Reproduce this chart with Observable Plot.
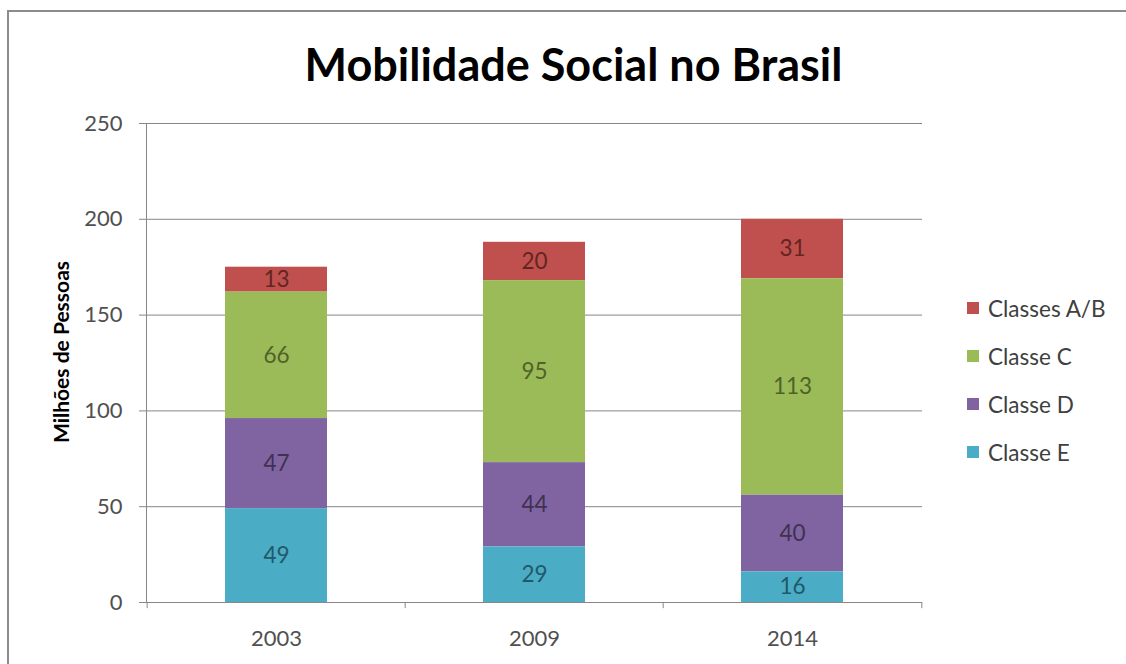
<!DOCTYPE html>
<html><head><meta charset="utf-8">
<script src="https://cdn.jsdelivr.net/npm/d3@7"></script>
<script src="https://cdn.jsdelivr.net/npm/@observablehq/plot@0.6"></script>
<style>
body{margin:0;background:#fff;overflow:hidden;font-family:Lato,"Open Sans",sans-serif;}
#wrap{position:relative;width:1126px;height:664px;overflow:hidden;}
#frame{position:absolute;left:7px;top:10px;width:1200px;height:700px;border:2px solid #8c8c8c;box-sizing:border-box;}
#chart{position:absolute;left:0;top:0;}
#title{position:absolute;left:0;width:1147px;top:42px;text-align:center;font-weight:bold;font-size:45px;line-height:1;color:#000;}
#ylabel{position:absolute;left:60px;top:352px;transform:translate(-50%,-50%) rotate(-90deg);font-weight:bold;font-size:21px;white-space:nowrap;color:#000;}
#legend{position:absolute;left:967px;top:284px;}
.li{display:flex;align-items:center;height:48px;font-size:22.5px;color:#404040;}
.sw{width:12px;height:12px;margin-right:9px;}
</style>
</head><body>
<div id="wrap">
<div id="frame"></div>
<div id="chart"></div>
<div id="title"></div>
<div id="ylabel"></div>
<div id="legend"></div>
</div>
<script>
const title = "Mobilidade Social no Brasil";
const yLabel = "Milhões de Pessoas";
const years = ["2003", "2009", "2014"];
const classes = ["Classes A/B", "Classe C", "Classe D", "Classe E"];
const classeAB = [13, 20, 31];
const classeC = [66, 95, 113];
const classeD = [47, 44, 40];
const classeE = [49, 29, 16];
const yTicks = [0, 50, 100, 150, 200, 250];
const barColors = ["#C0504D", "#9BBB59", "#8064A2", "#4BACC6"];
const labelColors = ["#632523", "#4F6228", "#3F3151", "#215968"];

const seriesValues = [classeAB, classeC, classeD, classeE];
const rows = [];
classes.forEach((c, i) => years.forEach((y, j) => rows.push({cls: c, year: y, value: seriesValues[i][j]})));
const stackOrder = classes.slice().reverse();

const W = 1126, H = 664, mL = 146, mR = 204, mT = 123, mB = 62;
const step = (W - mL - mR) / years.length;

const chart = Plot.plot({
  width: W, height: H,
  marginLeft: mL, marginRight: mR, marginTop: mT, marginBottom: mB,
  style: {fontFamily: "Lato, 'Open Sans', sans-serif", fontSize: "22px", color: "#595959", background: "transparent"},
  x: {domain: years, paddingInner: 0.605, paddingOuter: 0.3025, axis: null},
  y: {domain: [0, 250], axis: null},
  color: {domain: [...classes, ...classes.map(c => "L:" + c)], range: [...barColors, ...labelColors]},
  marks: [
    Plot.gridY(yTicks, {stroke: "#878787", strokeOpacity: 1}),
    Plot.frame({anchor: "left", stroke: "#878787"}),
    Plot.axisY({ticks: yTicks, tickSize: 7, tickPadding: 17, stroke: "#878787", fill: "#505050", fontSize: 22, label: null}),
    Plot.axisX({tickSize: 0, tickPadding: 28, fill: "#505050", fontSize: 22, label: null}),
    Plot.ruleX(years, {x: d => d, dx: -step / 2, y1: 0, y2: -3.2, stroke: "#878787"}),
    Plot.ruleX(years.slice(-1), {x: d => d, dx: step / 2, y1: 0, y2: -3.2, stroke: "#878787"}),
    Plot.barY(rows, {x: "year", y: "value", fill: "cls", z: "cls", order: stackOrder}),
    Plot.ruleY([0], {stroke: "#878787"}),
    Plot.text(rows, Plot.stackY({x: "year", y: "value", z: "cls", order: stackOrder, text: d => String(d.value), fill: d => "L:" + d.cls, fontSize: 22.5}))
  ]
});
document.getElementById("chart").appendChild(chart);
document.getElementById("title").textContent = title;
document.getElementById("ylabel").textContent = yLabel;
const leg = document.getElementById("legend");
classes.forEach((c, i) => {
  const row = document.createElement("div");
  row.className = "li";
  const sw = document.createElement("div");
  sw.className = "sw";
  sw.style.background = barColors[i];
  const t = document.createElement("span");
  t.textContent = c;
  row.appendChild(sw); row.appendChild(t);
  leg.appendChild(row);
});
</script>
</body></html>
